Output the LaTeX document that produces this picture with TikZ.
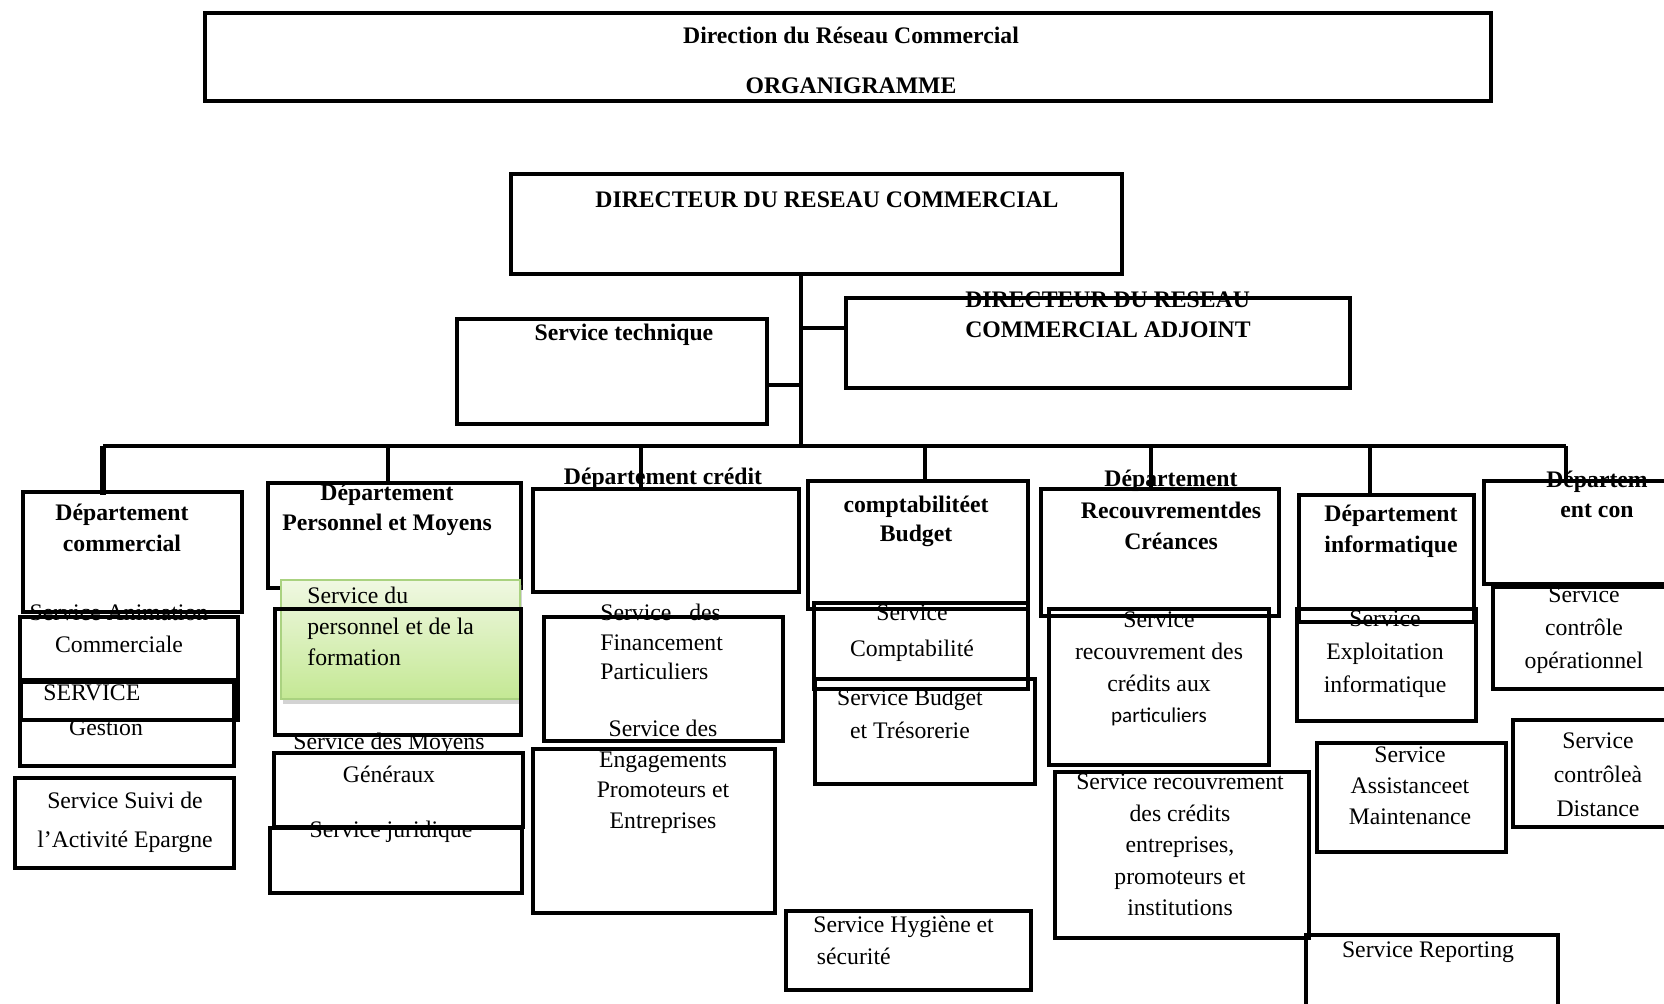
\documentclass[tikz,border=0pt]{standalone}
\usepackage{fontspec}
\setmainfont{Liberation Serif}
\newfontfamily\calibri{Carlito}
\usetikzlibrary{fit,shadows}

\definecolor{vertclair}{RGB}{240,248,226}
\definecolor{vertfonce}{RGB}{196,232,148}
\definecolor{vertbord}{RGB}{170,210,128}

\tikzset{
	boite/.style={draw, line width=2.1pt, inner sep=0pt},
	titre/.style={font=\bfseries\fontsize{13.5}{#1}\selectfont, align=center, inner sep=0pt},
	titre/.default=17,
	texte/.style={font=\fontsize{13.5}{#1}\selectfont, align=center, inner sep=0pt},
	texte/.default=17,
	lien/.style={line width=1.9pt},
}

\begin{document}
\begin{tikzpicture}[x=0.02cm, y=-0.02cm]
			%%%%% START %%%%%
			\useasboundingbox (0,0) rectangle (1664,1004);
			\clip (0,0) rectangle (1664,1004);
			
			% en-tete
			\node[boite, line width=2.3pt, fit={(205,13) (1491,101)}] (cadre) {};
			\node[titre=28.4] (tcadre) at (851,60) {Direction du Réseau Commercial\\ORGANIGRAMME};
			
			% direction
			\node[boite, fit={(511,174) (1122,274)}] (dir) {};
			\node[titre] (tdir) at (827,200) {DIRECTEUR DU RESEAU COMMERCIAL};
			\node[boite, fit={(846,298) (1350,388)}] (adj) {};
			\node[titre=17, align=left] (tadj) at (1108,315) {DIRECTEUR DU RESEAU\\COMMERCIAL ADJOINT};
			\node[boite, fit={(457,319) (767,424)}] (tech) {};
			\node[titre] (ttech) at (624,335) {Service technique};
			
			\coordinate (tronc) at (801,274);
			\coordinate (busg) at (103,446);
			\coordinate (busd) at (1566,446);
			\draw[lien] (tronc) -- (tronc |- busg);
			\draw[lien] (801,328) -- (801,328 -| adj.west);
			\draw[lien] (801,385) -- (801,385 -| tech.east);
			\draw[lien] (busg) -- (busd);
			
			% departements
			\node[boite, fit={(23,492) (242,612)}] (dcom) {};
			\node[boite, fit={(268,483) (521,588)}] (dpers) {};
			\node[boite, fit={(533,489) (799,592)}] (dcred) {};
			\node[boite, fit={(808,481) (1028,609)}] (dcompta) {};
			\node[boite, fit={(1041,489) (1279,616)}] (drecouv) {};
			\node[boite, fit={(1299,495) (1474,622)}] (dinfo) {};
			\node[boite, fit={(1484,481) (1700,584)}] (dcon) {};
			
			\draw[line width=3pt] (busg) -- ([yshift=-0.1cm]busg |- dcom.north);
			\foreach \n/\x in {dpers/388, dcred/641, dcompta/925, drecouv/1151, dinfo/1370, dcon/1566}
				\draw[lien] (\x,446) -- (\x,446 |- \n.north);
			
			\node[titre=17.6] (tdcom) at (122,528) {Département\\commercial};
			\node[titre=17] (tdpers) at (387,510) {Département\\Personnel et Moyens};
			\node[titre] (tdcred) at (663,479) {Département crédit};
			\node[titre=16.4] (tdcompta) at (916,521) {comptabilitéet\\Budget};
			\node[titre=17.9] (tdrecouv) at (1171,510) {Département\\Recouvrementdes\\Créances};
			\node[titre=17.6] (tdinfo) at (1391,531) {Département\\informatique};
			\node[titre=17] (tdcon) at (1597,494) {Départem\\ent con};
			
			% services
			\node[fit={(281,580) (520,699)}, inner sep=0pt, draw=vertbord, line width=0.8pt,
				top color=vertclair, bottom color=vertfonce,
				drop shadow={opacity=0.35, shadow xshift=0.04cm, shadow yshift=-0.1cm}] (vert) {};
			
			\node[boite, fit={(20,617) (238,680)}] (sanim) {};
			\node[boite, fit={(20,680) (234,766)}] (sgest) {};
			\node[boite, fit={(21,682) (238,720)}] (sgest2) {};
			\node[boite, fit={(15,778) (234,868)}] (ssuivi) {};
			
			\node[boite, fit={(275,609) (521,735)}] (spers) {};
			\node[boite, fit={(274,753) (523,827)}] (smoy) {};
			\node[boite, fit={(270,828) (522,893)}] (sjur) {};
			
			\node[boite, fit={(544,617) (783,741)}] (sfin) {};
			\node[boite, fit={(533,749) (775,913)}] (seng) {};
			
			\node[boite, fit={(814,603) (1028,689)}] (scompta) {};
			\node[boite, fit={(815,679) (1035,784)}] (sbudget) {};
			\node[boite, fit={(786,911) (1031,990)}] (shyg) {};
			
			\node[boite, fit={(1049,609) (1269,765)}] (srecpart) {};
			\node[boite, fit={(1055,772) (1309,938)}] (srecent) {};
			
			\node[boite, fit={(1297,609) (1476,721)}] (sexpl) {};
			\node[boite, fit={(1317,743) (1506,852)}] (sassist) {};
			\node[boite, fit={(1306,935) (1558,1030)}] (sreport) {};
			
			\node[boite, fit={(1493,587) (1700,689)}] (sctrlop) {};
			\node[boite, fit={(1513,720) (1700,827)}] (sctrldist) {};
			
			\node[texte=18.1] (tsanim) at (119,629) {Service Animation\\Commerciale};
			\node[texte=19.8, align=left, anchor=west] (tsgest) at (43,710) {SERVICE\\\hspace*{14.7pt}Gestion};
			\node[texte=22.1] (tssuivi) at (125,822) {Service Suivi de\\l’Activité Epargne};
			
			\node[texte=17.6, align=left, anchor=west] (tspers) at (307,626) {Service du\\personnel et de la\\formation};
			\node[texte=18.7] (tsmoy) at (389,758) {Service des Moyens\\Généraux};
			\node[texte] (tsjur) at (391,832) {Service juridique};
			
			\node[texte=16.7, align=left, anchor=west] (tsfin) at (600,642) {Service \enspace des\\Financement\\Particuliers};
			\node[texte=17.4] (tseng) at (663,777) {Service des\\Engagements\\Promoteurs et\\Entreprises};
			
			\node[texte=20.4] (tscompta) at (912,633) {Service\\Comptabilité};
			\node[texte=18.7] (tsbudget) at (910,714) {Service Budget\\et Trésorerie};
			\node[texte=18.1, align=left, anchor=west] (tshyg) at (813,940) {Service Hygiène et\\\hspace*{2pt}sécurité};
			
			\node[texte=18.1] (tsrecpart) at (1159,669) {Service\\recouvrement des\\crédits aux\\{\calibri\fontsize{12}{18.1}\selectfont particuliers}};
			\node[texte=18] (tsrecent) at (1180,845) {Service recouvrement\\des crédits\\entreprises,\\promoteurs et\\institutions};
			
			\node[texte=18.7] (tsexpl) at (1385,654) {Service\\Exploitation\\informatique};
			\node[texte=17.6] (tsassist) at (1410,786) {Service\\Assistanceet\\Maintenance};
			\node[texte] (tsreport) at (1428,952) {Service Reporting};
			
			\node[texte=18.7] (tsctrlop) at (1584,630) {Service\\contrôle\\opérationnel};
			\node[texte=19.3] (tsctrldist) at (1598,775) {Service\\contrôleà\\Distance};
			%%%%% END %%%%%
\end{tikzpicture}
\end{document}
